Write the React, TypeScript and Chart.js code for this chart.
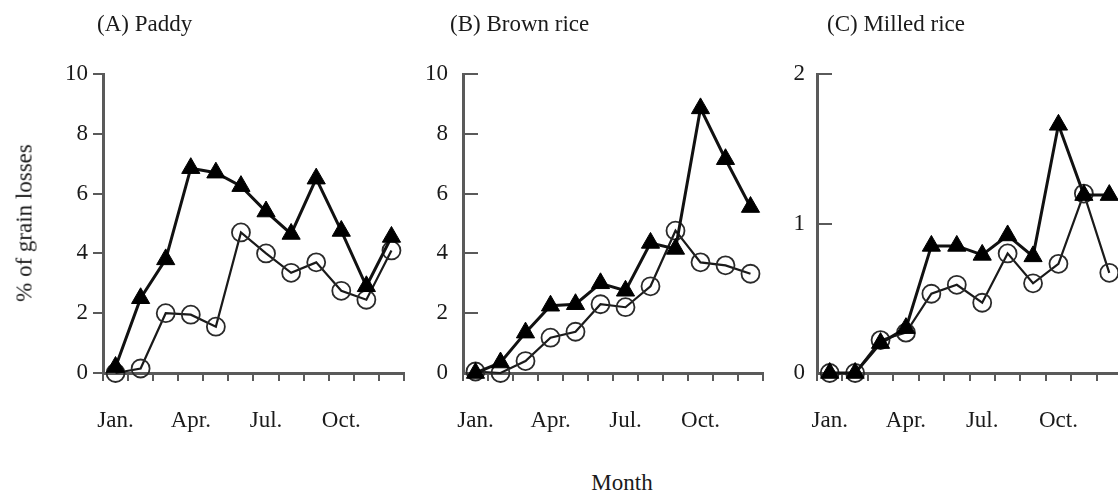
import React, { useEffect, useRef } from 'react';
import { Chart, registerables } from 'chart.js';

Chart.register(...registerables);

// ---------- data ----------
const MONTHS = ['Jan', 'Feb', 'Mar', 'Apr', 'May', 'Jun', 'Jul', 'Aug', 'Sep', 'Oct', 'Nov', 'Dec'];
const TICK_LABELS = ['Jan.', '', '', 'Apr.', '', '', 'Jul.', '', '', 'Oct.', '', ''];

const PADDY_TRIANGLE = [0.2, 2.5, 3.8, 6.85, 6.7, 6.25, 5.4, 4.65, 6.5, 4.75, 2.9, 4.55];
const PADDY_CIRCLE = [0, 0.15, 2.0, 1.95, 1.55, 4.7, 4.0, 3.35, 3.7, 2.75, 2.45, 4.1];

const BROWN_TRIANGLE = [0, 0.35, 1.35, 2.25, 2.3, 3.0, 2.75, 4.35, 4.15, 8.85, 7.15, 5.55];
const BROWN_CIRCLE = [0.05, 0, 0.4, 1.18, 1.38, 2.3, 2.2, 2.9, 4.76, 3.7, 3.6, 3.32];

const MILLED_TRIANGLE = [0, 0, 0.2, 0.3, 0.85, 0.85, 0.79, 0.92, 0.78, 1.66, 1.19, 1.19];
const MILLED_CIRCLE = [0, 0, 0.22, 0.27, 0.53, 0.59, 0.47, 0.8, 0.6, 0.73, 1.2, 0.67];

const PANEL_TITLES = ['(A) Paddy', '(B) Brown rice', '(C) Milled rice'];
const Y_MAX = [10, 10, 2];
const Y_STEP = [2, 2, 1];
const Y_TITLE = '% of grain losses';
const X_TITLE = 'Month';

// ---------- style ----------
const SERIF = "'Liberation Serif', 'Times New Roman', serif";
const TEXT = '#1a1a1a';
const AXIS = '#5a5a5a';
const CANVAS_H = 433;

type PanelProps = {
  left: number;
  width: number;
  yWidth: number;
  padRight: number;
  yTickLen: number;
  yTickPad: number;
  tri: number[];
  circ: number[];
  yMax: number;
  yStep: number;
};

function Panel(p: PanelProps) {
  const ref = useRef<HTMLCanvasElement | null>(null);
  useEffect(() => {
    if (!ref.current) return;
    const chart = new Chart(ref.current, {
      type: 'line',
      data: {
        labels: MONTHS,
        datasets: [
          {
            data: p.tri,
            borderColor: '#111',
            borderWidth: 3,
            pointStyle: 'triangle',
            pointRadius: 10.5,
            pointBackgroundColor: '#000',
            pointBorderColor: '#000',
            pointBorderWidth: 1,
            tension: 0,
            clip: false as any,
          },
          {
            data: p.circ,
            borderColor: '#1a1a1a',
            borderWidth: 2.2,
            pointStyle: 'circle',
            pointRadius: 9,
            pointBackgroundColor: 'rgba(255,255,255,0)',
            pointBorderColor: '#2a2a2a',
            pointBorderWidth: 1.8,
            tension: 0,
            clip: false as any,
          },
        ],
      },
      options: {
        animation: false,
        responsive: false,
        maintainAspectRatio: false,
        layout: {
          autoPadding: false,
          padding: { left: 0, right: p.padRight, top: 74, bottom: 0 },
        },
        plugins: {
          legend: { display: false },
          tooltip: { enabled: false },
          title: { display: false },
        },
        scales: {
          x: {
            type: 'category',
            offset: true,
            grid: {
              display: true,
              drawOnChartArea: false,
              drawTicks: true,
              tickLength: 8,
              offset: true,
              color: AXIS,
              lineWidth: 2,
            },
            border: { display: true, color: AXIS, width: 3 },
            ticks: {
              autoSkip: false,
              maxRotation: 0,
              minRotation: 0,
              padding: 26,
              color: TEXT,
              font: { family: SERIF, size: 23 },
              callback: (_v: any, i: number) => TICK_LABELS[i],
            },
            afterFit: (s: any) => {
              s.height = 60;
              s.paddingLeft = 0;
              s.paddingRight = 0;
            },
          },
          y: {
            min: 0,
            max: p.yMax,
            grid: {
              display: true,
              drawOnChartArea: false,
              drawTicks: true,
              tickLength: p.yTickLen,
              color: AXIS,
              lineWidth: 2,
            },
            border: { display: true, color: AXIS, width: 3 },
            ticks: {
              stepSize: p.yStep,
              padding: p.yTickPad,
              color: TEXT,
              font: { family: SERIF, size: 23 },
            },
            afterFit: (s: any) => {
              s.width = p.yWidth;
              s.paddingTop = 0;
              s.paddingBottom = 0;
            },
          },
        },
      } as any,
    });
    return () => chart.destroy();
  }, []);
  return (
    <canvas
      ref={ref}
      width={p.width}
      height={CANVAS_H}
      style={{ position: 'absolute', left: p.left, top: 0, width: p.width, height: CANVAS_H }}
    />
  );
}

const textStyle: React.CSSProperties = {
  position: 'absolute',
  fontFamily: SERIF,
  fontSize: 23,
  lineHeight: '23px',
  color: TEXT,
  whiteSpace: 'nowrap',
};

export default function App() {
  return (
    <div
      style={{
        position: 'fixed',
        left: 0,
        top: 0,
        width: 1118,
        height: 497,
        overflow: 'hidden',
        background: '#fff',
      }}
    >
      <Panel left={0} width={420} yWidth={103} padRight={16} yTickLen={10} yTickPad={5}
        tri={PADDY_TRIANGLE} circ={PADDY_CIRCLE} yMax={Y_MAX[0]} yStep={Y_STEP[0]} />
      <Panel left={360} width={420} yWidth={103} padRight={17} yTickLen={-15} yTickPad={30}
        tri={BROWN_TRIANGLE} circ={BROWN_CIRCLE} yMax={Y_MAX[1]} yStep={Y_STEP[1]} />
      <Panel left={714} width={408} yWidth={103} padRight={0} yTickLen={-15} yTickPad={27}
        tri={MILLED_TRIANGLE} circ={MILLED_CIRCLE} yMax={Y_MAX[2]} yStep={Y_STEP[2]} />

      <div style={{ ...textStyle, left: 97, top: 12 }}>{PANEL_TITLES[0]}</div>
      <div style={{ ...textStyle, left: 450, top: 12 }}>{PANEL_TITLES[1]}</div>
      <div style={{ ...textStyle, left: 827, top: 12 }}>{PANEL_TITLES[2]}</div>

      <div
        style={{
          ...textStyle,
          left: 24,
          top: 223,
          transform: 'translate(-50%, -50%) rotate(-90deg)',
        }}
      >
        {Y_TITLE}
      </div>
      <div style={{ ...textStyle, left: 622, top: 471, transform: 'translateX(-50%)' }}>{X_TITLE}</div>
    </div>
  );
}
